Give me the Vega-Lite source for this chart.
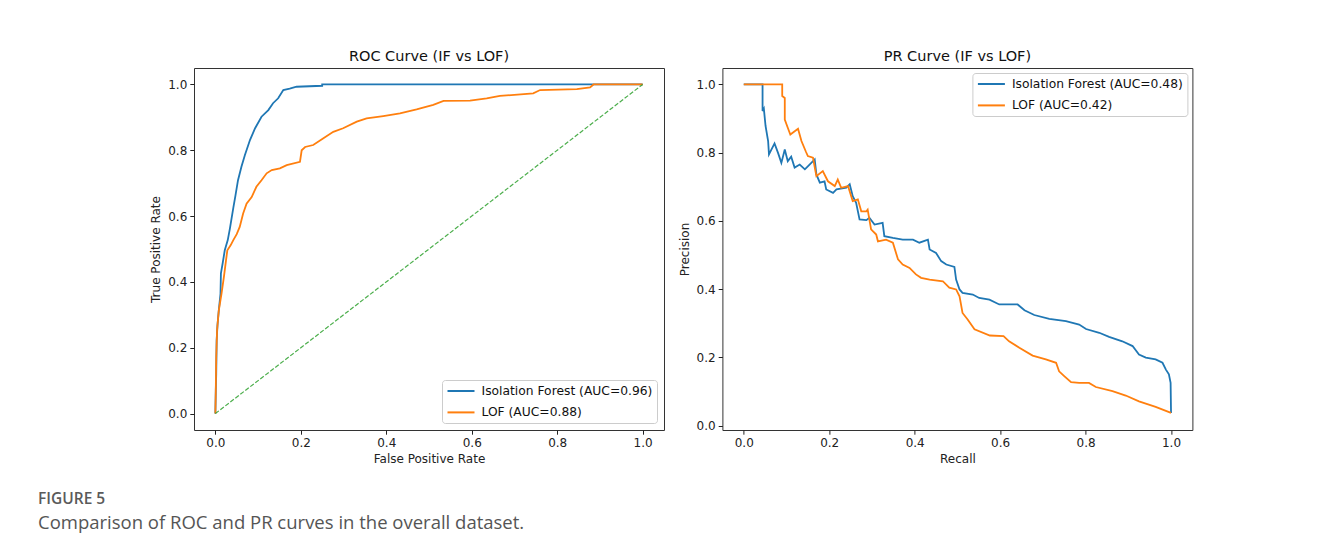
{
  "$schema": "https://vega.github.io/schema/vega-lite/v6.json",
  "background": "white",
  "padding": {"left": 38, "top": 48, "right": 10, "bottom": 10},
  "bounds": "flush",
  "spacing": 58.4,
  "title": {
    "text": "FIGURE 5",
    "subtitle": "Comparison of ROC and PR curves in the overall dataset.",
    "orient": "bottom",
    "anchor": "start",
    "frame": "group",
    "dx": -156,
    "offset": 27,
    "font": "Open Sans",
    "fontSize": 15.5,
    "fontWeight": 600,
    "color": "#5a5a5a",
    "subtitleFont": "Open Sans",
    "subtitleFontSize": 18.5,
    "subtitleColor": "#555555",
    "subtitlePadding": 7
  },
  "datasets": {
    "roc": [
      {"s": "Isolation Forest (AUC=0.96)", "i": 0, "x": 0, "y": 0},
      {"s": "Isolation Forest (AUC=0.96)", "i": 1, "x": 0.001, "y": 0.07},
      {"s": "Isolation Forest (AUC=0.96)", "i": 2, "x": 0.002, "y": 0.12},
      {"s": "Isolation Forest (AUC=0.96)", "i": 3, "x": 0.003, "y": 0.222},
      {"s": "Isolation Forest (AUC=0.96)", "i": 4, "x": 0.005, "y": 0.27},
      {"s": "Isolation Forest (AUC=0.96)", "i": 5, "x": 0.008, "y": 0.313},
      {"s": "Isolation Forest (AUC=0.96)", "i": 6, "x": 0.012, "y": 0.364},
      {"s": "Isolation Forest (AUC=0.96)", "i": 7, "x": 0.013, "y": 0.426},
      {"s": "Isolation Forest (AUC=0.96)", "i": 8, "x": 0.017, "y": 0.456},
      {"s": "Isolation Forest (AUC=0.96)", "i": 9, "x": 0.022, "y": 0.496},
      {"s": "Isolation Forest (AUC=0.96)", "i": 10, "x": 0.029, "y": 0.527},
      {"s": "Isolation Forest (AUC=0.96)", "i": 11, "x": 0.034, "y": 0.562},
      {"s": "Isolation Forest (AUC=0.96)", "i": 12, "x": 0.042, "y": 0.625},
      {"s": "Isolation Forest (AUC=0.96)", "i": 13, "x": 0.047, "y": 0.662},
      {"s": "Isolation Forest (AUC=0.96)", "i": 14, "x": 0.053, "y": 0.709},
      {"s": "Isolation Forest (AUC=0.96)", "i": 15, "x": 0.061, "y": 0.750},
      {"s": "Isolation Forest (AUC=0.96)", "i": 16, "x": 0.069, "y": 0.785},
      {"s": "Isolation Forest (AUC=0.96)", "i": 17, "x": 0.081, "y": 0.831},
      {"s": "Isolation Forest (AUC=0.96)", "i": 18, "x": 0.093, "y": 0.867},
      {"s": "Isolation Forest (AUC=0.96)", "i": 19, "x": 0.108, "y": 0.902},
      {"s": "Isolation Forest (AUC=0.96)", "i": 20, "x": 0.124, "y": 0.922},
      {"s": "Isolation Forest (AUC=0.96)", "i": 21, "x": 0.135, "y": 0.943},
      {"s": "Isolation Forest (AUC=0.96)", "i": 22, "x": 0.147, "y": 0.958},
      {"s": "Isolation Forest (AUC=0.96)", "i": 23, "x": 0.159, "y": 0.983},
      {"s": "Isolation Forest (AUC=0.96)", "i": 24, "x": 0.174, "y": 0.987},
      {"s": "Isolation Forest (AUC=0.96)", "i": 25, "x": 0.19, "y": 0.993},
      {"s": "Isolation Forest (AUC=0.96)", "i": 26, "x": 0.25, "y": 0.996},
      {"s": "Isolation Forest (AUC=0.96)", "i": 27, "x": 0.25, "y": 1.0},
      {"s": "Isolation Forest (AUC=0.96)", "i": 28, "x": 1.0, "y": 1.0},
      {"s": "LOF (AUC=0.88)", "i": 0, "x": 0, "y": 0},
      {"s": "LOF (AUC=0.88)", "i": 1, "x": 0.001, "y": 0.07},
      {"s": "LOF (AUC=0.88)", "i": 2, "x": 0.002, "y": 0.17},
      {"s": "LOF (AUC=0.88)", "i": 3, "x": 0.004, "y": 0.253},
      {"s": "LOF (AUC=0.88)", "i": 4, "x": 0.008, "y": 0.313},
      {"s": "LOF (AUC=0.88)", "i": 5, "x": 0.0145, "y": 0.365},
      {"s": "LOF (AUC=0.88)", "i": 6, "x": 0.020, "y": 0.415},
      {"s": "LOF (AUC=0.88)", "i": 7, "x": 0.025, "y": 0.466},
      {"s": "LOF (AUC=0.88)", "i": 8, "x": 0.028, "y": 0.496},
      {"s": "LOF (AUC=0.88)", "i": 9, "x": 0.036, "y": 0.512},
      {"s": "LOF (AUC=0.88)", "i": 10, "x": 0.042, "y": 0.527},
      {"s": "LOF (AUC=0.88)", "i": 11, "x": 0.050, "y": 0.545},
      {"s": "LOF (AUC=0.88)", "i": 12, "x": 0.057, "y": 0.567},
      {"s": "LOF (AUC=0.88)", "i": 13, "x": 0.065, "y": 0.608},
      {"s": "LOF (AUC=0.88)", "i": 14, "x": 0.073, "y": 0.638},
      {"s": "LOF (AUC=0.88)", "i": 15, "x": 0.085, "y": 0.658},
      {"s": "LOF (AUC=0.88)", "i": 16, "x": 0.096, "y": 0.689},
      {"s": "LOF (AUC=0.88)", "i": 17, "x": 0.108, "y": 0.709},
      {"s": "LOF (AUC=0.88)", "i": 18, "x": 0.12, "y": 0.730},
      {"s": "LOF (AUC=0.88)", "i": 19, "x": 0.132, "y": 0.740},
      {"s": "LOF (AUC=0.88)", "i": 20, "x": 0.151, "y": 0.745},
      {"s": "LOF (AUC=0.88)", "i": 21, "x": 0.167, "y": 0.755},
      {"s": "LOF (AUC=0.88)", "i": 22, "x": 0.198, "y": 0.765},
      {"s": "LOF (AUC=0.88)", "i": 23, "x": 0.202, "y": 0.80},
      {"s": "LOF (AUC=0.88)", "i": 24, "x": 0.21, "y": 0.81},
      {"s": "LOF (AUC=0.88)", "i": 25, "x": 0.229, "y": 0.816},
      {"s": "LOF (AUC=0.88)", "i": 26, "x": 0.252, "y": 0.836},
      {"s": "LOF (AUC=0.88)", "i": 27, "x": 0.276, "y": 0.856},
      {"s": "LOF (AUC=0.88)", "i": 28, "x": 0.299, "y": 0.867},
      {"s": "LOF (AUC=0.88)", "i": 29, "x": 0.331, "y": 0.887},
      {"s": "LOF (AUC=0.88)", "i": 30, "x": 0.354, "y": 0.897},
      {"s": "LOF (AUC=0.88)", "i": 31, "x": 0.393, "y": 0.904},
      {"s": "LOF (AUC=0.88)", "i": 32, "x": 0.432, "y": 0.912},
      {"s": "LOF (AUC=0.88)", "i": 33, "x": 0.471, "y": 0.924},
      {"s": "LOF (AUC=0.88)", "i": 34, "x": 0.51, "y": 0.938},
      {"s": "LOF (AUC=0.88)", "i": 35, "x": 0.534, "y": 0.950},
      {"s": "LOF (AUC=0.88)", "i": 36, "x": 0.596, "y": 0.951},
      {"s": "LOF (AUC=0.88)", "i": 37, "x": 0.635, "y": 0.958},
      {"s": "LOF (AUC=0.88)", "i": 38, "x": 0.666, "y": 0.965},
      {"s": "LOF (AUC=0.88)", "i": 39, "x": 0.744, "y": 0.973},
      {"s": "LOF (AUC=0.88)", "i": 40, "x": 0.76, "y": 0.983},
      {"s": "LOF (AUC=0.88)", "i": 41, "x": 0.846, "y": 0.986},
      {"s": "LOF (AUC=0.88)", "i": 42, "x": 0.877, "y": 0.991},
      {"s": "LOF (AUC=0.88)", "i": 43, "x": 0.885, "y": 1.0},
      {"s": "LOF (AUC=0.88)", "i": 44, "x": 1.0, "y": 1.0}
    ],
    "diag": [
      {"x": 0, "y": 0},
      {"x": 1, "y": 1}
    ],
    "pr": [
      {"s": "Isolation Forest (AUC=0.48)", "i": 0, "x": 0, "y": 1.0},
      {"s": "Isolation Forest (AUC=0.48)", "i": 1, "x": 0.044, "y": 1.0},
      {"s": "Isolation Forest (AUC=0.48)", "i": 2, "x": 0.044, "y": 0.922},
      {"s": "Isolation Forest (AUC=0.48)", "i": 3, "x": 0.047, "y": 0.929},
      {"s": "Isolation Forest (AUC=0.48)", "i": 4, "x": 0.051, "y": 0.878},
      {"s": "Isolation Forest (AUC=0.48)", "i": 5, "x": 0.057, "y": 0.834},
      {"s": "Isolation Forest (AUC=0.48)", "i": 6, "x": 0.059, "y": 0.795},
      {"s": "Isolation Forest (AUC=0.48)", "i": 7, "x": 0.072, "y": 0.827},
      {"s": "Isolation Forest (AUC=0.48)", "i": 8, "x": 0.080, "y": 0.800},
      {"s": "Isolation Forest (AUC=0.48)", "i": 9, "x": 0.088, "y": 0.770},
      {"s": "Isolation Forest (AUC=0.48)", "i": 10, "x": 0.096, "y": 0.809},
      {"s": "Isolation Forest (AUC=0.48)", "i": 11, "x": 0.103, "y": 0.775},
      {"s": "Isolation Forest (AUC=0.48)", "i": 12, "x": 0.111, "y": 0.788},
      {"s": "Isolation Forest (AUC=0.48)", "i": 13, "x": 0.119, "y": 0.756},
      {"s": "Isolation Forest (AUC=0.48)", "i": 14, "x": 0.131, "y": 0.765},
      {"s": "Isolation Forest (AUC=0.48)", "i": 15, "x": 0.143, "y": 0.751},
      {"s": "Isolation Forest (AUC=0.48)", "i": 16, "x": 0.154, "y": 0.765},
      {"s": "Isolation Forest (AUC=0.48)", "i": 17, "x": 0.166, "y": 0.780},
      {"s": "Isolation Forest (AUC=0.48)", "i": 18, "x": 0.170, "y": 0.736},
      {"s": "Isolation Forest (AUC=0.48)", "i": 19, "x": 0.178, "y": 0.712},
      {"s": "Isolation Forest (AUC=0.48)", "i": 20, "x": 0.189, "y": 0.716},
      {"s": "Isolation Forest (AUC=0.48)", "i": 21, "x": 0.193, "y": 0.692},
      {"s": "Isolation Forest (AUC=0.48)", "i": 22, "x": 0.209, "y": 0.682},
      {"s": "Isolation Forest (AUC=0.48)", "i": 23, "x": 0.217, "y": 0.692},
      {"s": "Isolation Forest (AUC=0.48)", "i": 24, "x": 0.240, "y": 0.697},
      {"s": "Isolation Forest (AUC=0.48)", "i": 25, "x": 0.248, "y": 0.707},
      {"s": "Isolation Forest (AUC=0.48)", "i": 26, "x": 0.255, "y": 0.672},
      {"s": "Isolation Forest (AUC=0.48)", "i": 27, "x": 0.263, "y": 0.653},
      {"s": "Isolation Forest (AUC=0.48)", "i": 28, "x": 0.271, "y": 0.604},
      {"s": "Isolation Forest (AUC=0.48)", "i": 29, "x": 0.287, "y": 0.602},
      {"s": "Isolation Forest (AUC=0.48)", "i": 30, "x": 0.294, "y": 0.609},
      {"s": "Isolation Forest (AUC=0.48)", "i": 31, "x": 0.306, "y": 0.589},
      {"s": "Isolation Forest (AUC=0.48)", "i": 32, "x": 0.325, "y": 0.594},
      {"s": "Isolation Forest (AUC=0.48)", "i": 33, "x": 0.329, "y": 0.555},
      {"s": "Isolation Forest (AUC=0.48)", "i": 34, "x": 0.349, "y": 0.550},
      {"s": "Isolation Forest (AUC=0.48)", "i": 35, "x": 0.372, "y": 0.545},
      {"s": "Isolation Forest (AUC=0.48)", "i": 36, "x": 0.396, "y": 0.545},
      {"s": "Isolation Forest (AUC=0.48)", "i": 37, "x": 0.411, "y": 0.536},
      {"s": "Isolation Forest (AUC=0.48)", "i": 38, "x": 0.431, "y": 0.545},
      {"s": "Isolation Forest (AUC=0.48)", "i": 39, "x": 0.435, "y": 0.516},
      {"s": "Isolation Forest (AUC=0.48)", "i": 40, "x": 0.450, "y": 0.506},
      {"s": "Isolation Forest (AUC=0.48)", "i": 41, "x": 0.462, "y": 0.482},
      {"s": "Isolation Forest (AUC=0.48)", "i": 42, "x": 0.474, "y": 0.472},
      {"s": "Isolation Forest (AUC=0.48)", "i": 43, "x": 0.493, "y": 0.465},
      {"s": "Isolation Forest (AUC=0.48)", "i": 44, "x": 0.497, "y": 0.428},
      {"s": "Isolation Forest (AUC=0.48)", "i": 45, "x": 0.505, "y": 0.399},
      {"s": "Isolation Forest (AUC=0.48)", "i": 46, "x": 0.512, "y": 0.389},
      {"s": "Isolation Forest (AUC=0.48)", "i": 47, "x": 0.536, "y": 0.384},
      {"s": "Isolation Forest (AUC=0.48)", "i": 48, "x": 0.551, "y": 0.374},
      {"s": "Isolation Forest (AUC=0.48)", "i": 49, "x": 0.575, "y": 0.369},
      {"s": "Isolation Forest (AUC=0.48)", "i": 50, "x": 0.598, "y": 0.355},
      {"s": "Isolation Forest (AUC=0.48)", "i": 51, "x": 0.641, "y": 0.355},
      {"s": "Isolation Forest (AUC=0.48)", "i": 52, "x": 0.657, "y": 0.338},
      {"s": "Isolation Forest (AUC=0.48)", "i": 53, "x": 0.680, "y": 0.324},
      {"s": "Isolation Forest (AUC=0.48)", "i": 54, "x": 0.715, "y": 0.313},
      {"s": "Isolation Forest (AUC=0.48)", "i": 55, "x": 0.754, "y": 0.306},
      {"s": "Isolation Forest (AUC=0.48)", "i": 56, "x": 0.785, "y": 0.296},
      {"s": "Isolation Forest (AUC=0.48)", "i": 57, "x": 0.801, "y": 0.283},
      {"s": "Isolation Forest (AUC=0.48)", "i": 58, "x": 0.832, "y": 0.272},
      {"s": "Isolation Forest (AUC=0.48)", "i": 59, "x": 0.855, "y": 0.260},
      {"s": "Isolation Forest (AUC=0.48)", "i": 60, "x": 0.886, "y": 0.247},
      {"s": "Isolation Forest (AUC=0.48)", "i": 61, "x": 0.910, "y": 0.233},
      {"s": "Isolation Forest (AUC=0.48)", "i": 62, "x": 0.925, "y": 0.208},
      {"s": "Isolation Forest (AUC=0.48)", "i": 63, "x": 0.941, "y": 0.199},
      {"s": "Isolation Forest (AUC=0.48)", "i": 64, "x": 0.964, "y": 0.194},
      {"s": "Isolation Forest (AUC=0.48)", "i": 65, "x": 0.980, "y": 0.184},
      {"s": "Isolation Forest (AUC=0.48)", "i": 66, "x": 0.988, "y": 0.164},
      {"s": "Isolation Forest (AUC=0.48)", "i": 67, "x": 0.995, "y": 0.150},
      {"s": "Isolation Forest (AUC=0.48)", "i": 68, "x": 0.999, "y": 0.125},
      {"s": "Isolation Forest (AUC=0.48)", "i": 69, "x": 1.0, "y": 0.037},
      {"s": "LOF (AUC=0.42)", "i": 0, "x": 0, "y": 1.0},
      {"s": "LOF (AUC=0.42)", "i": 1, "x": 0.090, "y": 1.0},
      {"s": "LOF (AUC=0.42)", "i": 2, "x": 0.090, "y": 0.966},
      {"s": "LOF (AUC=0.42)", "i": 3, "x": 0.096, "y": 0.960},
      {"s": "LOF (AUC=0.42)", "i": 4, "x": 0.096, "y": 0.897},
      {"s": "LOF (AUC=0.42)", "i": 5, "x": 0.103, "y": 0.873},
      {"s": "LOF (AUC=0.42)", "i": 6, "x": 0.109, "y": 0.853},
      {"s": "LOF (AUC=0.42)", "i": 7, "x": 0.127, "y": 0.870},
      {"s": "LOF (AUC=0.42)", "i": 8, "x": 0.135, "y": 0.834},
      {"s": "LOF (AUC=0.42)", "i": 9, "x": 0.145, "y": 0.804},
      {"s": "LOF (AUC=0.42)", "i": 10, "x": 0.150, "y": 0.790},
      {"s": "LOF (AUC=0.42)", "i": 11, "x": 0.162, "y": 0.785},
      {"s": "LOF (AUC=0.42)", "i": 12, "x": 0.170, "y": 0.731},
      {"s": "LOF (AUC=0.42)", "i": 13, "x": 0.185, "y": 0.746},
      {"s": "LOF (AUC=0.42)", "i": 14, "x": 0.197, "y": 0.716},
      {"s": "LOF (AUC=0.42)", "i": 15, "x": 0.213, "y": 0.702},
      {"s": "LOF (AUC=0.42)", "i": 16, "x": 0.220, "y": 0.721},
      {"s": "LOF (AUC=0.42)", "i": 17, "x": 0.228, "y": 0.697},
      {"s": "LOF (AUC=0.42)", "i": 18, "x": 0.244, "y": 0.702},
      {"s": "LOF (AUC=0.42)", "i": 19, "x": 0.255, "y": 0.658},
      {"s": "LOF (AUC=0.42)", "i": 20, "x": 0.267, "y": 0.663},
      {"s": "LOF (AUC=0.42)", "i": 21, "x": 0.275, "y": 0.628},
      {"s": "LOF (AUC=0.42)", "i": 22, "x": 0.287, "y": 0.628},
      {"s": "LOF (AUC=0.42)", "i": 23, "x": 0.290, "y": 0.633},
      {"s": "LOF (AUC=0.42)", "i": 24, "x": 0.298, "y": 0.575},
      {"s": "LOF (AUC=0.42)", "i": 25, "x": 0.310, "y": 0.560},
      {"s": "LOF (AUC=0.42)", "i": 26, "x": 0.314, "y": 0.540},
      {"s": "LOF (AUC=0.42)", "i": 27, "x": 0.333, "y": 0.545},
      {"s": "LOF (AUC=0.42)", "i": 28, "x": 0.349, "y": 0.536},
      {"s": "LOF (AUC=0.42)", "i": 29, "x": 0.361, "y": 0.487},
      {"s": "LOF (AUC=0.42)", "i": 30, "x": 0.372, "y": 0.472},
      {"s": "LOF (AUC=0.42)", "i": 31, "x": 0.388, "y": 0.462},
      {"s": "LOF (AUC=0.42)", "i": 32, "x": 0.403, "y": 0.443},
      {"s": "LOF (AUC=0.42)", "i": 33, "x": 0.415, "y": 0.433},
      {"s": "LOF (AUC=0.42)", "i": 34, "x": 0.435, "y": 0.428},
      {"s": "LOF (AUC=0.42)", "i": 35, "x": 0.466, "y": 0.423},
      {"s": "LOF (AUC=0.42)", "i": 36, "x": 0.481, "y": 0.404},
      {"s": "LOF (AUC=0.42)", "i": 37, "x": 0.497, "y": 0.399},
      {"s": "LOF (AUC=0.42)", "i": 38, "x": 0.505, "y": 0.379},
      {"s": "LOF (AUC=0.42)", "i": 39, "x": 0.512, "y": 0.330},
      {"s": "LOF (AUC=0.42)", "i": 40, "x": 0.524, "y": 0.311},
      {"s": "LOF (AUC=0.42)", "i": 41, "x": 0.540, "y": 0.282},
      {"s": "LOF (AUC=0.42)", "i": 42, "x": 0.576, "y": 0.264},
      {"s": "LOF (AUC=0.42)", "i": 43, "x": 0.608, "y": 0.262},
      {"s": "LOF (AUC=0.42)", "i": 44, "x": 0.621, "y": 0.247},
      {"s": "LOF (AUC=0.42)", "i": 45, "x": 0.645, "y": 0.228},
      {"s": "LOF (AUC=0.42)", "i": 46, "x": 0.676, "y": 0.205},
      {"s": "LOF (AUC=0.42)", "i": 47, "x": 0.707, "y": 0.194},
      {"s": "LOF (AUC=0.42)", "i": 48, "x": 0.731, "y": 0.184},
      {"s": "LOF (AUC=0.42)", "i": 49, "x": 0.738, "y": 0.159},
      {"s": "LOF (AUC=0.42)", "i": 50, "x": 0.750, "y": 0.145},
      {"s": "LOF (AUC=0.42)", "i": 51, "x": 0.766, "y": 0.127},
      {"s": "LOF (AUC=0.42)", "i": 52, "x": 0.785, "y": 0.125},
      {"s": "LOF (AUC=0.42)", "i": 53, "x": 0.808, "y": 0.125},
      {"s": "LOF (AUC=0.42)", "i": 54, "x": 0.824, "y": 0.113},
      {"s": "LOF (AUC=0.42)", "i": 55, "x": 0.863, "y": 0.101},
      {"s": "LOF (AUC=0.42)", "i": 56, "x": 0.894, "y": 0.088},
      {"s": "LOF (AUC=0.42)", "i": 57, "x": 0.925, "y": 0.071},
      {"s": "LOF (AUC=0.42)", "i": 58, "x": 0.964, "y": 0.055},
      {"s": "LOF (AUC=0.42)", "i": 59, "x": 1.0, "y": 0.037}
    ]
  },
  "resolve": {
    "scale": {"color": "independent", "x": "independent", "y": "independent"},
    "legend": {"color": "independent"}
  },
  "hconcat": [
    {
      "width": 470,
      "height": 362,
      "title": {"text": "ROC Curve (IF vs LOF)"},
      "encoding": {
        "x": {
          "field": "x", "type": "quantitative",
          "scale": {"domain": [-0.05, 1.05], "nice": false, "zero": false},
          "axis": {"title": "False Positive Rate", "values": [0, 0.2, 0.4, 0.6, 0.8, 1.0], "format": ".1f"}
        },
        "y": {
          "field": "y", "type": "quantitative",
          "scale": {"domain": [-0.05, 1.05], "nice": false, "zero": false},
          "axis": {"title": "True Positive Rate", "values": [0, 0.2, 0.4, 0.6, 0.8, 1.0], "format": ".1f"}
        }
      },
      "layer": [
        {
          "data": {"name": "roc"},
          "mark": {"type": "line", "strokeWidth": 1.8},
          "encoding": {
            "color": {
              "field": "s", "type": "nominal",
              "scale": {"domain": ["Isolation Forest (AUC=0.96)", "LOF (AUC=0.88)"], "range": ["#1f77b4", "#ff7f0e"]},
              "legend": {"orient": "bottom-right", "title": null, "offset": 7}
            },
            "order": {"field": "i", "type": "quantitative"}
          }
        },
        {
          "data": {"name": "diag"},
          "mark": {"type": "line", "color": "#2ca02c", "strokeWidth": 1.2, "strokeDash": [4.4, 1.9], "opacity": 0.85},
          "encoding": {}
        }
      ]
    },
    {
      "width": 470,
      "height": 362,
      "title": {"text": "PR Curve (IF vs LOF)"},
      "data": {"name": "pr"},
      "mark": {"type": "line", "strokeWidth": 1.8},
      "encoding": {
        "x": {
          "field": "x", "type": "quantitative",
          "scale": {"domain": [-0.05, 1.05], "nice": false, "zero": false},
          "axis": {"title": "Recall", "values": [0, 0.2, 0.4, 0.6, 0.8, 1.0], "format": ".1f"}
        },
        "y": {
          "field": "y", "type": "quantitative",
          "scale": {"domain": [-0.013, 1.048], "nice": false, "zero": false},
          "axis": {"title": "Precision", "values": [0, 0.2, 0.4, 0.6, 0.8, 1.0], "format": ".1f"}
        },
        "color": {
          "field": "s", "type": "nominal",
          "scale": {"domain": ["Isolation Forest (AUC=0.48)", "LOF (AUC=0.42)"], "range": ["#1f77b4", "#ff7f0e"]},
          "legend": {"orient": "top-right", "title": null, "offset": 5}
        },
        "order": {"field": "i", "type": "quantitative"}
      }
    }
  ],
  "config": {
    "font": "DejaVu Sans",
    "view": {"stroke": "#333333", "strokeWidth": 1},
    "axis": {
      "grid": false,
      "domain": false,
      "tickColor": "#222222",
      "tickSize": 4.2,
      "tickWidth": 1,
      "labelFont": "DejaVu Sans",
      "labelFontSize": 12,
      "labelColor": "#222222",
      "labelPadding": 3,
      "labelFlush": false,
      "labelOverlap": false,
      "titleFont": "DejaVu Sans",
      "titleFontSize": 12,
      "titleFontWeight": "normal",
      "titleColor": "#222222",
      "titlePadding": 5
    },
    "title": {
      "font": "DejaVu Sans",
      "fontSize": 14.5,
      "fontWeight": "normal",
      "color": "#111111",
      "offset": 3.5,
      "anchor": "middle"
    },
    "legend": {
      "padding": 4,
      "strokeColor": "#cccccc",
      "fillColor": "rgba(255,255,255,0.8)",
      "cornerRadius": 3,
      "symbolType": "M-2.25,0L2.25,0",
      "symbolSize": 144,
      "symbolStrokeWidth": 2,
      "symbolOffset": 8,
      "labelFont": "DejaVu Sans",
      "labelFontSize": 12.3,
      "labelColor": "#111111",
      "labelOffset": 13.5,
      "labelLimit": 400,
      "rowPadding": 7.4
    }
  }
}
